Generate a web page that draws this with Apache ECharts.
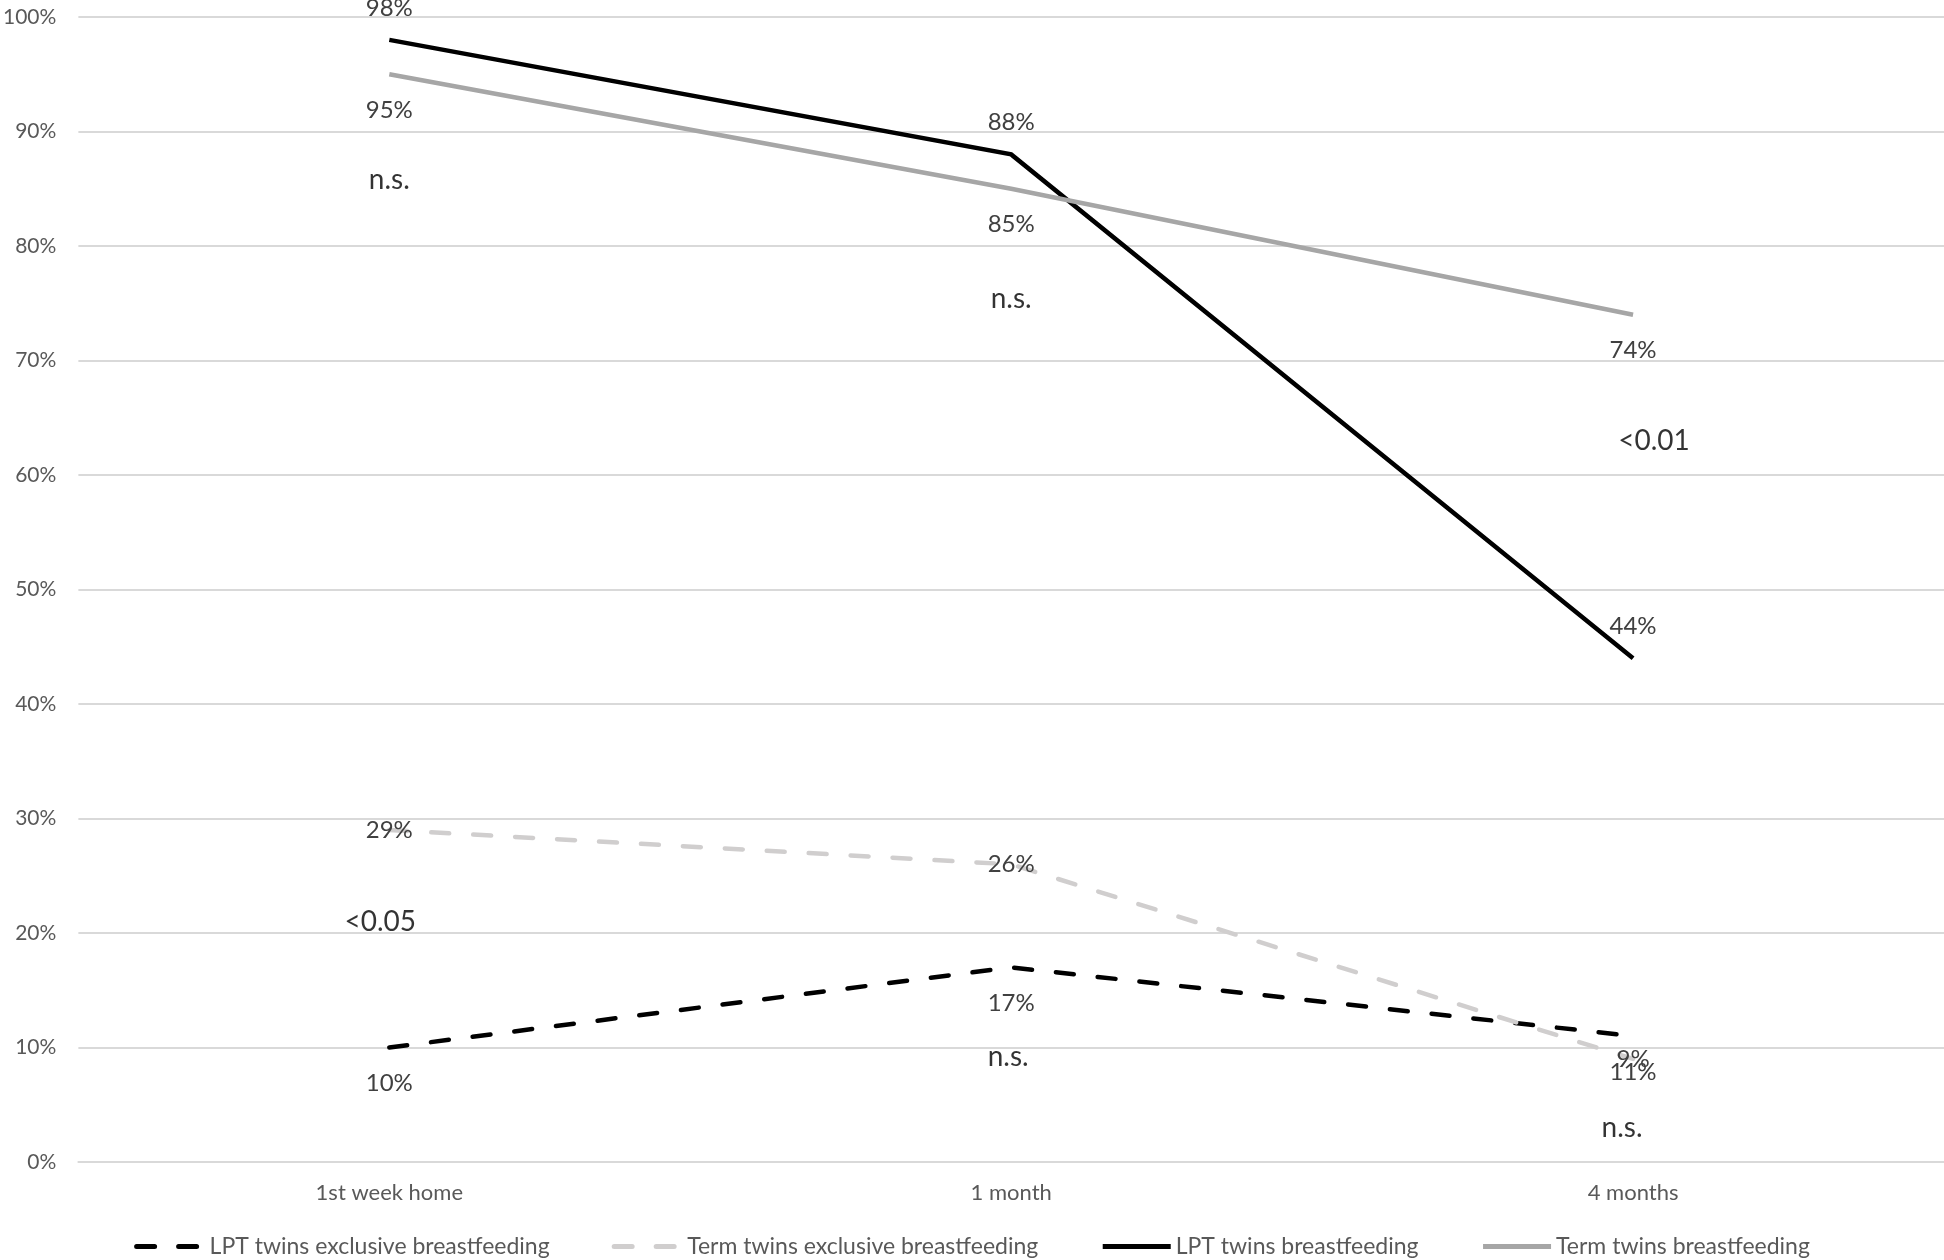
<!DOCTYPE html>
<html>
<head>
<meta charset="utf-8">
<script src="https://cdn.jsdelivr.net/npm/echarts@6/dist/echarts.min.js"></script>
<style>html,body{margin:0;padding:0;background:#fff;}#c{width:1944px;height:1260px;}</style>
</head>
<body>
<div id="c"></div>
<script>
var categories = ['1st week home', '1 month', '4 months'];
var yTicks = [0, 10, 20, 30, 40, 50, 60, 70, 80, 90, 100];
var seriesNames = ['LPT twins exclusive breastfeeding', 'Term twins exclusive breastfeeding', 'LPT twins breastfeeding', 'Term twins breastfeeding'];
var lptExclusive = [10, 17, 11];
var termExclusive = [29, 26, 9];
var lptBreastfeeding = [98, 88, 44];
var termBreastfeeding = [95, 85, 74];
var annoCats = [0, 1, 2, 0, 1, 2];
var annoValues = [85.8, 75.4, 63.0, 21.0, 9.2, 3.0];
var annoTexts = ['n.s.', 'n.s.', '<0.01', '<0.05', 'n.s.', 'n.s.'];

var FONT = 'Lato';
var annoOffsets = [[0,0],[0,0],[21,0],[-9,0],[-3,0],[-11,0]];

function lineSeries(name, data, color, dashed, labelPos, labelDist) {
  return {
    name: name, type: 'line', data: data, symbol: 'circle', symbolSize: 0, showSymbol: true,
    lineStyle: { color: color, width: 4.5, type: dashed ? [18, 24] : 'solid', cap: dashed ? 'round' : 'butt', join: 'miter' },
    itemStyle: { color: color },
    label: { show: true, position: labelPos, distance: labelDist, formatter: '{c}%', color: '#404040', fontFamily: FONT, fontSize: 24 },
    emphasis: { disabled: true },
    animation: false
  };
}

var annoData = annoTexts.map(function (t, i) {
  return { value: [annoCats[i], annoValues[i]], name: t, label: { offset: annoOffsets[i] } };
});

var option = {
  animation: false,
  grid: { left: 75, right: 0, top: 17, bottom: 98, containLabel: false },
  xAxis: {
    type: 'category', data: categories, boundaryGap: true,
    axisLine: { show: true, lineStyle: { color: '#d9d9d9', width: 2 } },
    axisTick: { show: false },
    axisLabel: { color: '#595959', fontFamily: FONT, fontSize: 22, margin: 20 },
    splitLine: { show: false }
  },
  yAxis: {
    type: 'value', min: yTicks[0], max: yTicks[yTicks.length - 1], interval: yTicks[1] - yTicks[0],
    axisLine: { show: false }, axisTick: { show: false },
    axisLabel: { color: '#595959', fontFamily: FONT, fontSize: 21, margin: 22, formatter: '{value}%' },
    splitLine: { lineStyle: { color: '#d9d9d9', width: 2 } }
  },
  legend: {
    data: seriesNames, top: 1230, left: 'center', itemWidth: 68, itemHeight: 14, itemGap: 62,
    itemStyle: { opacity: 0 },
    lineStyle: { width: 5 },
    textStyle: { color: '#595959', fontFamily: FONT, fontSize: 23 }
  },
  series: [
    lineSeries(seriesNames[0], lptExclusive, '#000000', true, 'bottom', 24),
    lineSeries(seriesNames[1], termExclusive, '#d0cece', true, 'inside', 0),
    lineSeries(seriesNames[2], lptBreastfeeding, '#000000', false, 'top', 20),
    lineSeries(seriesNames[3], termBreastfeeding, '#a6a6a6', false, 'bottom', 24),
    {
      name: 'annotations', type: 'scatter', data: annoData, symbolSize: 0,
      label: { show: true, position: 'inside', formatter: '{b}', color: '#000000', fontFamily: FONT, fontSize: 28 },
      emphasis: { disabled: true }, silent: true, z: 5
    }
  ]
};
var chart = echarts.init(document.getElementById('c'), null, { renderer: 'canvas' });
chart.setOption(option);
</script>
</body>
</html>
